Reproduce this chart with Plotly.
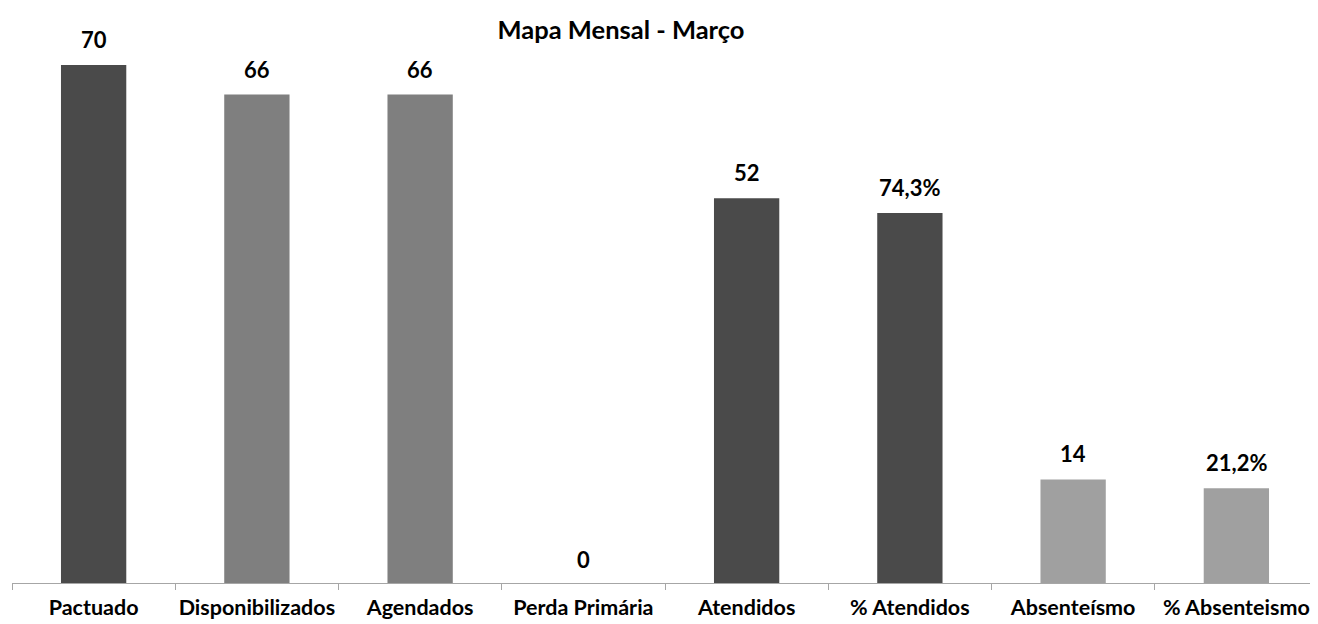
import plotly.graph_objects as go

categories = ["Pactuado", "Disponibilizados", "Agendados", "Perda Primária",
              "Atendidos", "% Atendidos", "Absenteísmo", "% Absenteismo"]

count_cats = ["Pactuado", "Disponibilizados", "Agendados", "Perda Primária",
              "Atendidos", "Absenteísmo"]
count_vals = [70, 66, 66, 0, 52, 14]
count_colors = ["#4a4a4a", "#7f7f7f", "#7f7f7f", "#7f7f7f", "#4a4a4a", "#a0a0a0"]

pct_cats = ["% Atendidos", "% Absenteismo"]
pct_vals = [74.3, 21.2]
pct_colors = ["#4a4a4a", "#a0a0a0"]

title_text = "Mapa Mensal - Março"

FONT = "Lato"
W, H = 1310, 616  # page body adds an 8px offset

fig = go.Figure()
fig.add_trace(go.Bar(x=count_cats, y=count_vals, marker_color=count_colors,
                     marker_line_width=0, yaxis="y", hoverinfo="x+y"))
fig.add_trace(go.Bar(x=pct_cats, y=pct_vals, marker_color=pct_colors,
                     marker_line_width=0, yaxis="y2", hoverinfo="x+y"))

label_font = dict(family=FONT, size=22, color="#000000", weight="bold")
annotations = []
for c, v in zip(count_cats, count_vals):
    annotations.append(dict(x=c, y=v, xref="x", yref="y", text=f"{v}",
                            showarrow=False, yanchor="bottom", yshift=10 if v else 8,
                            font=label_font))
for c, v in zip(pct_cats, pct_vals):
    annotations.append(dict(x=c, y=v, xref="x", yref="y2",
                            text=f"{v:.1f}%".replace(".", ","),
                            showarrow=False, yanchor="bottom", yshift=10,
                            font=label_font))

fig.update_layout(
    width=W, height=H,
    margin=dict(l=4, r=0, t=20, b=41, autoexpand=False),
    paper_bgcolor="white", plot_bgcolor="white",
    barmode="overlay", bargap=0.6, showlegend=False,
    title=dict(text=title_text, x=613 / W, xanchor="center", y=1 - 22 / H,
               yanchor="middle", font=dict(family=FONT, size=25.5, color="#000000", weight="bold")),
    xaxis=dict(categoryorder="array", categoryarray=categories, type="category",
               showgrid=False, showline=True, linecolor="#a6a6a6", linewidth=1,
               ticks="outside", tickson="boundaries", ticklen=6, tickcolor="#a6a6a6",
               ticklabelstandoff=5, tickangle=0, automargin=False,
               tickfont=dict(family=FONT, size=21.5, color="#000000", weight="bold"),
               range=[-0.5, 7.5]),
    yaxis=dict(range=[0, 75], visible=False, showgrid=False, zeroline=False),
    yaxis2=dict(range=[2.94, 109.98], overlaying="y", visible=False,
                showgrid=False, zeroline=False),
    annotations=annotations,
)

fig.write_html("out.html")
